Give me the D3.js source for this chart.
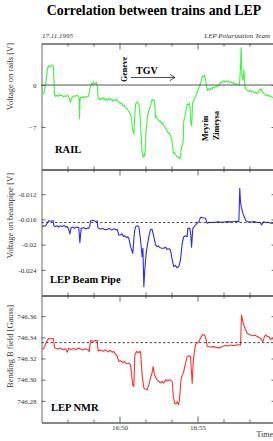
<!DOCTYPE html>
<html>
<head>
<meta charset="utf-8">
<script src="https://cdn.jsdelivr.net/npm/d3@7"></script>
<style>
  body { margin: 0; background: #fff; }
  svg text { font-family: "Liberation Serif", "Times New Roman", Times, "DejaVu Serif", serif !important; }
</style>
</head>
<body>
<script>
// [minutes after 16:45, value]
var rail = [[0.04,-1.7],[0.15,-1.3],[0.26,-0.1],[0.38,2.7],[0.47,3.2],[0.55,3.0],[0.63,3.3],[0.75,3.1],[0.79,1.6],[0.83,-1.6],[0.90,-1.9],[0.96,-1.7],[1.05,-1.9],[1.14,-1.6],[1.22,-1.8],[1.30,-1.7],[1.40,-2.0],[1.47,-1.8],[1.57,-1.9],[1.67,-1.7],
  [1.74,-2.0],[1.79,-2.3],[1.86,-2.9],[1.92,-2.3],[1.99,-2.0],[2.08,-1.8],[2.18,-1.9],[2.28,-1.7],[2.37,-1.9],[2.41,-2.4],[2.44,-5.6],[2.47,-2.4],[2.50,-2.0],[2.60,-2.1],[2.68,-1.9],[2.76,-2.1],[2.86,-1.9],[2.95,-2.0],[3.01,-1.9],[3.06,-1.2],
  [3.11,-0.5],[3.21,0.3],[3.28,0.0],[3.33,0.5],[3.43,0.2],[3.53,0.4],[3.59,-0.5],[3.63,-2.2],[3.72,-2.5],[3.80,-2.2],[3.88,-2.4],[3.96,-2.1],[4.05,-2.5],[4.13,-2.3],[4.22,-2.6],[4.30,-2.2],[4.38,-2.4],[4.46,-2.3],[4.55,-2.7],[4.63,-2.4],
  [4.72,-2.6],[4.80,-2.4],[4.88,-2.7],[4.96,-2.8],[5.06,-3.1],[5.14,-3.0],[5.22,-3.5],[5.30,-3.4],[5.38,-3.7],[5.45,-3.9],[5.55,-4.2],[5.64,-4.6],[5.72,-5.0],[5.77,-5.5],[5.83,-7.3],[5.92,-8.2],[5.98,-5.0],[6.03,-3.2],[6.09,-2.9],[6.15,-2.8],
  [6.20,-3.1],[6.25,-3.2],[6.30,-4.5],[6.35,-6.5],[6.44,-11.0],[6.50,-11.9],[6.54,-12.0],[6.60,-11.4],[6.63,-11.8],[6.69,-8.0],[6.78,-5.6],[6.88,-4.2],[6.99,-3.5],[7.05,-2.8],[7.10,-2.4],[7.16,-2.6],[7.22,-2.5],[7.27,-3.5],[7.31,-5.4],[7.37,-5.2],
  [7.42,-5.6],[7.50,-5.8],[7.56,-6.1],[7.63,-6.0],[7.70,-6.4],[7.77,-6.3],[7.84,-6.8],[7.92,-7.0],[7.99,-7.4],[8.06,-7.6],[8.13,-8.1],[8.20,-8.0],[8.27,-8.4],[8.33,-8.8],[8.38,-9.8],[8.46,-11.4],[8.52,-11.2],[8.59,-11.6],[8.66,-11.8],[8.72,-12.1],
  [8.80,-12.0],[8.87,-12.3],[8.92,-11.6],[8.97,-10.5],[9.03,-10.0],[9.08,-9.5],[9.12,-6.0],[9.18,-5.4],[9.23,-4.8],[9.28,-4.0],[9.34,-3.2],[9.42,-3.3],[9.49,-3.0],[9.53,-4.0],[9.57,-6.4],[9.63,-6.8],[9.68,-3.0],[9.75,-2.6],[9.81,-2.2],[9.88,-1.9],
  [9.94,-1.5],[10.00,-1.0],[10.06,-0.6],[10.12,-0.2],[10.19,0.3],[10.26,0.9],[10.32,1.5],[10.38,1.3],[10.45,1.7],[10.53,0.8],[10.58,-0.3],[10.62,-0.9],[10.70,-0.6],[10.77,-0.8],[10.83,-0.6],[10.92,-0.7],[11.00,-0.3],[11.09,-0.5],[11.18,-0.2],[11.27,-0.3],
  [11.35,0.0],[11.41,-0.1],[11.47,0.5],[11.55,0.4],[11.64,0.7],[11.73,0.5],[11.82,0.7],[11.90,0.5],[11.99,0.7],[12.08,0.4],[12.16,0.5],[12.24,0.3],[12.33,0.4],[12.41,0.1],[12.50,0.2],[12.60,0.0],[12.69,0.1],[12.76,3.0],[12.80,6.2],[12.85,1.5],
  [12.92,0.8],[12.97,2.5],[13.04,-0.3],[13.12,-0.8],[13.21,-0.9],[13.30,-1.1],[13.38,-0.9],[13.46,-1.2],[13.55,-1.0],[13.63,-1.3],[13.72,-1.2],[13.80,-1.4],[13.88,-1.3],[13.93,-0.9],[13.97,-0.7],[14.04,-0.9],[14.10,-0.7],[14.16,-1.2],[14.23,-1.4],[14.32,-1.6],
  [14.42,-1.8],[14.50,-1.6],[14.58,-1.9],[14.68,-1.8],[14.77,-2.0],[14.87,-2.1],[14.96,-1.9],[15.06,-2.0]];

var pipe = [[0.04,-0.01716],[0.15,-0.01700],[0.26,-0.01705],[0.36,-0.01662],[0.47,-0.0162],[0.60,-0.01630],[0.75,-0.0162],[0.79,-0.0170],[0.90,-0.01715],[1.00,-0.01700],[1.10,-0.01720],[1.22,-0.0170],[1.33,-0.01712],[1.45,-0.01695],[1.55,-0.01718],[1.65,-0.01715],[1.75,-0.01758],[1.82,-0.01832],[1.90,-0.01731],[2.00,-0.01720],
  [2.12,-0.01740],[2.25,-0.01722],[2.39,-0.01731],[2.46,-0.01969],[2.54,-0.01742],[2.61,-0.01742],[2.72,-0.01730],[2.84,-0.01752],[2.95,-0.01735],[3.03,-0.01742],[3.10,-0.0170],[3.14,-0.01625],[3.30,-0.01615],[3.45,-0.01630],[3.57,-0.01625],[3.61,-0.01731],[3.68,-0.01742],[3.80,-0.01755],[3.92,-0.01740],[4.05,-0.01762],
  [4.21,-0.01758],[4.35,-0.01745],[4.50,-0.01770],[4.65,-0.01750],[4.78,-0.01765],[4.85,-0.01758],[4.96,-0.01848],[5.06,-0.01848],[5.15,-0.01830],[5.25,-0.01870],[5.35,-0.01860],[5.45,-0.01890],[5.53,-0.01875],[5.60,-0.01901],[5.71,-0.02033],[5.85,-0.02139],[5.96,-0.01795],[6.03,-0.01715],[6.13,-0.01700],[6.24,-0.01715],
  [6.35,-0.01927],[6.45,-0.02192],[6.50,-0.02060],[6.56,-0.02668],[6.62,-0.02403],[6.71,-0.02139],[6.77,-0.02033],[6.88,-0.01874],[6.99,-0.01758],[7.09,-0.01758],[7.20,-0.01874],[7.31,-0.02006],[7.41,-0.02033],[7.50,-0.02020],[7.60,-0.02050],[7.74,-0.02059],[7.84,-0.02059],[7.95,-0.02040],[8.05,-0.02075],[8.16,-0.02065],
  [8.27,-0.02086],[8.38,-0.02244],[8.48,-0.0235],[8.58,-0.02330],[8.68,-0.02365],[8.80,-0.0235],[8.91,-0.02244],[9.02,-0.0198],[9.12,-0.01874],[9.22,-0.01860],[9.34,-0.01874],[9.38,-0.01742],[9.51,-0.01742],[9.57,-0.01850],[9.62,-0.02043],[9.70,-0.01742],[9.87,-0.01689],[9.98,-0.01660],[10.09,-0.01636],[10.19,-0.01567],
  [10.35,-0.01575],[10.51,-0.01582],[10.62,-0.01662],[10.73,-0.01647],[11.00,-0.01650],[11.30,-0.01640],[11.60,-0.01645],[11.90,-0.01635],[12.20,-0.01640],[12.45,-0.01630],[12.65,-0.01636],[12.71,-0.01107],[12.75,-0.01300],[12.80,-0.01398],[12.91,-0.01504],[13.08,-0.0161],[13.18,-0.01636],[13.40,-0.01642],[13.65,-0.01635],[13.85,-0.01650],
  [14.04,-0.01647],[14.10,-0.01689],[14.25,-0.01636],[14.40,-0.01650],[14.57,-0.01647],[14.68,-0.01662],[14.87,-0.01662],[15.06,-0.0165]];

var nmr = [[0.04,746.3297],[0.12,746.3290],[0.21,746.3313],[0.32,746.3360],[0.47,746.3391],[0.60,746.3385],[0.75,746.3391],[0.84,746.3303],[0.90,746.3297],[1.05,746.3290],[1.20,746.3300],[1.35,746.3285],[1.55,746.3291],[1.65,746.3259],[1.75,746.3297],[1.90,746.3285],[2.05,746.3295],[2.20,746.3283],[2.35,746.3298],[2.50,746.3291],
  [2.65,746.3280],[2.80,746.3292],[3.00,746.3281],[3.06,746.3265],[3.14,746.3369],[3.30,746.3360],[3.45,746.3372],[3.57,746.3369],[3.63,746.3272],[3.78,746.3281],[3.95,746.3268],[4.10,746.3282],[4.25,746.3262],[4.40,746.3278],[4.52,746.3260],[4.64,746.3265],[4.75,746.3240],[4.85,746.3225],[4.96,746.3171],[5.08,746.3180],
  [5.20,746.3160],[5.32,746.3172],[5.45,746.3150],[5.60,746.3155],[5.71,746.3140],[5.85,746.2951],[5.92,746.2935],[5.98,746.3234],[6.09,746.3265],[6.22,746.3258],[6.35,746.3265],[6.45,746.3045],[6.56,746.2920],[6.66,746.2912],[6.77,746.2904],[6.88,746.2951],[6.99,746.3014],[7.08,746.3060],[7.16,746.3124],[7.24,746.3045],
  [7.33,746.3020],[7.41,746.2998],[7.52,746.2985],[7.62,746.2970],[7.74,746.2985],[7.84,746.2967],[7.95,746.2998],[8.08,746.2990],[8.22,746.3000],[8.38,746.2982],[8.44,746.2857],[8.53,746.2778],[8.62,746.2770],[8.70,746.2790],[8.80,746.2762],[8.87,746.2857],[8.95,746.3014],[9.05,746.3050],[9.12,746.3077],[9.22,746.3150],
  [9.34,746.3218],[9.45,746.3225],[9.55,746.3218],[9.60,746.3100],[9.66,746.2967],[9.72,746.3150],[9.77,746.3234],[9.87,746.3328],[9.98,746.3345],[10.09,746.3360],[10.20,746.3395],[10.30,746.3423],[10.45,746.3423],[10.55,746.3380],[10.62,746.3313],[10.80,746.3308],[11.00,746.3312],[11.20,746.3305],[11.40,746.3300],[11.60,746.3315],
  [11.80,746.3322],[11.95,746.3318],[12.14,746.3328],[12.35,746.3322],[12.55,746.3330],[12.76,746.3328],[12.82,746.3611],[12.91,746.3548],[13.05,746.3480],[13.18,746.3438],[13.30,746.3430],[13.40,746.3423],[13.55,746.3415],[13.70,746.3420],[13.83,746.3407],[14.04,746.3391],[14.19,746.3360],[14.28,746.3400],[14.36,746.3423],[14.46,746.3410],
  [14.57,746.3407],[14.68,746.3380],[14.78,746.3391],[14.90,746.3375],[15.06,746.3380]];

// axis ticks
var railTicks = [0, -7];
var pipeTicks = [-0.012, -0.016, -0.02, -0.024];
var nmrTicks = [746.36, 746.34, 746.32, 746.30, 746.28];
var majorTimes = ['16:50', '16:55'];
var minorTimes = ['16:46:40', '16:48:20', '16:51:40', '16:53:20', '16:56:40', '16:58:20'];
var pipeRef = -0.0165;
var nmrRef = 746.335;

var width = 273, height = 441;
var serif = '"Liberation Serif", "Times New Roman", Times, "DejaVu Serif", serif';
var base = new Date(1995, 10, 17, 16, 45, 0);
function toDate(m) { return new Date(base.getTime() + m * 60000); }
function clock(s) {
  var p = s.split(':');
  return new Date(1995, 10, 17, +p[0], +p[1], +(p[2] || 0));
}

var x = d3.scaleTime()
  .domain([base, toDate(15)])
  .range([41.5, 275.5]);

var svg = d3.select('body').append('svg')
  .attr('width', width)
  .attr('height', height)
  .attr('font-family', serif);

svg.append('rect').attr('width', width).attr('height', height).attr('fill', '#fff');

// title + header lines
svg.append('text')
  .attr('x', 154).attr('y', 15)
  .attr('text-anchor', 'middle')
  .style('font-weight', 'bold')
  .style('font-size', '13.8px')
  .text('Correlation between trains and LEP');

svg.append('text')
  .attr('x', 42).attr('y', 37.5)
  .style('font-style', 'italic')
  .style('font-size', '7px')
  .style('fill', '#333')
  .text('17.11.1995');

svg.append('text')
  .attr('x', 270).attr('y', 37.5)
  .attr('text-anchor', 'end')
  .style('font-style', 'italic')
  .style('font-size', '7px')
  .style('fill', '#333')
  .text('LEP Polarization Team');

// one panel = frame, ticks, line
function panel(top, bottom, domain, ticks, fmt, series, color, title, titleY) {
  var y = d3.scaleLinear().domain(domain).range([bottom, top]);
  var g = svg.append('g');

  g.append('g')
    .attr('transform', 'translate(41.5,0)')
    .call(d3.axisLeft(y).tickValues(ticks).tickFormat(fmt).tickSize(-4).tickPadding(5).tickSizeOuter(0));
  g.append('g')
    .attr('transform', 'translate(275.5,0)')
    .call(d3.axisRight(y).tickValues(ticks).tickFormat('').tickSize(-4).tickSizeOuter(0));

  // time ticks on top and bottom edges
  g.append('g').attr('transform', 'translate(0,' + (top + 0.5) + ')')
    .call(d3.axisTop(x).tickValues(majorTimes.map(clock)).tickFormat('').tickSize(-6).tickSizeOuter(0));
  g.append('g').attr('transform', 'translate(0,' + (top + 0.5) + ')')
    .call(d3.axisTop(x).tickValues(minorTimes.map(clock)).tickFormat('').tickSize(-3).tickSizeOuter(0));
  g.append('g').attr('transform', 'translate(0,' + (bottom + 0.5) + ')')
    .call(d3.axisBottom(x).tickValues(minorTimes.map(clock)).tickFormat('').tickSize(-3).tickSizeOuter(0));

  g.selectAll('.domain').attr('stroke', '#444').attr('stroke-width', 0.8);
  g.selectAll('.tick line').attr('stroke', '#444').attr('stroke-width', 0.8);
  g.selectAll('.tick text')
    .attr('font-family', serif)
    .style('font-size', '7px')
    .attr('fill', '#333');

  g.append('path')
    .datum(series)
    .attr('fill', 'none')
    .attr('stroke', color)
    .attr('stroke-width', 1.1)
    .attr('stroke-linejoin', 'round')
    .attr('d', d3.line().x(function (d) { return x(toDate(d[0])); }).y(function (d) { return y(d[1]); }));

  g.append('text')
    .attr('transform', 'translate(13,' + titleY + ') rotate(-90)')
    .attr('text-anchor', 'end')
    .style('font-size', '8.5px')
    .style('fill', '#333')
    .text(title);

  return { g: g, y: y };
}

var p1 = panel(43, 169, [-14, 7], railTicks, d3.format('d'), rail, '#3cf53c', 'Voltage on rails [V]', 43);
var p2 = panel(169, 295, [-0.028, -0.008], pipeTicks, function (d) { return String(+d.toFixed(3)); }, pipe, '#2b2bf0', 'Voltage on beampipe [V]', 173);
var p3 = panel(295, 422, [746.26, 746.38], nmrTicks, d3.format('.2f'), nmr, '#ff3030', 'Bending B field [Gauss]', 305);

// bottom time axis with labels
var bx = svg.append('g').attr('transform', 'translate(0,422.5)')
  .call(d3.axisBottom(x).tickValues(majorTimes.map(clock)).tickFormat(d3.timeFormat('%H:%M')).tickSize(-6).tickPadding(3).tickSizeOuter(0));
bx.selectAll('.domain').attr('stroke', '#444').attr('stroke-width', 0.8);
bx.selectAll('.tick line').attr('stroke', '#444').attr('stroke-width', 0.8);
bx.selectAll('.tick text').attr('font-family', serif).style('font-size', '7px').attr('fill', '#333');

svg.append('text')
  .attr('x', 273).attr('y', 437)
  .attr('text-anchor', 'end')
  .style('font-size', '8px')
  .style('fill', '#333')
  .text('Time');

// reference lines
p1.g.append('line')
  .attr('x1', 41.5).attr('x2', 275.5)
  .attr('y1', p1.y(0)).attr('y2', p1.y(0))
  .attr('stroke', '#555').attr('stroke-width', 1);
p2.g.append('line')
  .attr('x1', 41.5).attr('x2', 275.5)
  .attr('y1', p2.y(pipeRef)).attr('y2', p2.y(pipeRef))
  .attr('stroke', '#222').attr('stroke-width', 0.8).attr('stroke-dasharray', '2.5,2');
p3.g.append('line')
  .attr('x1', 41.5).attr('x2', 275.5)
  .attr('y1', p3.y(nmrRef)).attr('y2', p3.y(nmrRef))
  .attr('stroke', '#222').attr('stroke-width', 0.8).attr('stroke-dasharray', '2.5,2');

// panel names
function label(txt, px, py, size) {
  svg.append('text')
    .attr('x', px).attr('y', py)
    .style('font-weight', 'bold')
    .style('font-size', size)
    .text(txt);
}
label('RAIL', 55, 153, '10.5px');
label('LEP Beam Pipe', 50, 283, '10.5px');
label('LEP NMR', 51, 411, '10.5px');

// stations + train direction
function vlabel(txt, px, py) {
  svg.append('text')
    .attr('transform', 'translate(' + px + ',' + py + ') rotate(-90)')
    .style('font-weight', 'bold')
    .style('font-size', '8px')
    .text(txt);
}
vlabel('Geneve', 127, 82);
vlabel('Meyrin', 208, 141);
vlabel('Zimeysa', 219, 140);

label('TGV', 136, 74, '10px');
svg.append('line')
  .attr('x1', 131).attr('x2', 175).attr('y1', 77.5).attr('y2', 77.5)
  .attr('stroke', '#222').attr('stroke-width', 0.8);
svg.append('path')
  .attr('d', 'M170,74.5 L175,77.5 L170,80.5')
  .attr('fill', 'none').attr('stroke', '#222').attr('stroke-width', 0.8);
</script>
</body>
</html>
